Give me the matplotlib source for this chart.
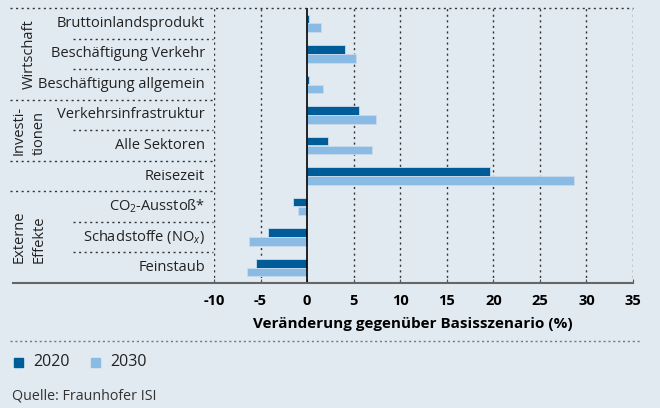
import matplotlib
matplotlib.use("Agg")
import matplotlib.pyplot as plt
import matplotlib.transforms as mtransforms
from matplotlib.lines import Line2D
from matplotlib.patches import Rectangle

plt.rcParams["font.family"] = ["Open Sans", "DejaVu Sans"]
plt.rcParams["mathtext.fontset"] = "custom"
plt.rcParams["mathtext.rm"] = "Open Sans"
plt.rcParams["mathtext.it"] = "Open Sans:italic"

# Daten (Veränderung gegenüber Basisszenario in %)
categories = [
    "Bruttoinlandsprodukt",
    "Beschäftigung Verkehr",
    "Beschäftigung allgemein",
    "Verkehrsinfrastruktur",
    "Alle Sektoren",
    "Reisezeit",
    r"CO$_{\mathrm{2}}$-Ausstoß*",
    r"Schadstoffe (NO$_{x}$)",
    "Feinstaub",
]
values_2020 = [0.2, 4.1, 0.2, 5.6, 2.2, 19.6, -1.5, -4.2, -5.5]
values_2030 = [1.5, 5.3, 1.7, 7.45, 6.95, 28.7, -1.0, -6.2, -6.5]
years = ["2020", "2030"]
groups = [("Wirtschaft", 0, 2), ("Investi-\ntionen", 3, 4), ("Externe\nEffekte", 6, 8)]
group_breaks = [2.5, 4.5, 5.5]
xticks = [-10, -5, 0, 5, 10, 15, 20, 25, 30, 35]

BG = "#e1e9f1"
DARK = "#005b99"
LIGHT = "#8abbe5"
DOT = "#333333"
W, H = 660, 408

fig = plt.figure(figsize=(6.6, 4.08), dpi=100, facecolor=BG)
ax = fig.add_axes([214 / W, 1 - 283 / H, (633 - 214) / W, (283 - 8) / H])
ax.set_facecolor(BG)

n = len(categories)
ypos = list(range(n))
h = 0.28
ax.barh([y - 0.145 for y in ypos], values_2020, height=h, color=DARK,
        edgecolor="#c9dbeb", linewidth=0.6, zorder=3)
ax.barh([y + 0.145 for y in ypos], values_2030, height=h, color=LIGHT,
        edgecolor="#c9dbeb", linewidth=0.6, zorder=3)

ax.set_xlim(-10, 35)
ax.set_ylim(n - 0.5, -0.5)
ax.set_yticks([])
ax.set_xticks(xticks)
ax.set_xticklabels([str(t) for t in xticks], fontsize=10.5, fontweight="bold")
ax.tick_params(axis="x", direction="in", length=3, color="#555555", pad=8)
ax.set_xlabel("Veränderung gegenüber Basisszenario (%)", fontsize=11,
              fontweight="bold")
ax.xaxis.set_label_coords((413 - 214) / 419, -(324 - 283) / 275)
ax.xaxis.label.set_va("center")

for s in ["top", "left", "right", "bottom"]:
    ax.spines[s].set_visible(False)

dots = (0, (1.5, 2.5))
# vertikale Gitterlinien
for t in xticks:
    if t == 0:
        ax.axvline(0, color="black", lw=1.2, zorder=4)
    else:
        ax.axvline(t, color=DOT, lw=1, ls=dots, zorder=1)

# obere Linie
fig.add_artist(Line2D([10 / W, 633 / W], [1 - 8 / H] * 2, color=DOT, lw=1, ls=dots))
# x-Achse
fig.add_artist(Line2D([13 / W, 633 / W], [1 - 283 / H] * 2, color="#666666", lw=1.5))

trans = mtransforms.blended_transform_factory(fig.transFigure, ax.transData)
for i in range(n - 1):
    b = i + 0.5
    x0 = 10 / W if b in group_breaks else 73 / W
    ax.add_line(Line2D([x0, 213 / W], [b, b], transform=trans, color=DOT,
                       lw=1, ls=dots, clip_on=False))

for y, lab in zip(ypos, categories):
    ax.text(205 / W, y, lab, transform=trans, ha="right", va="center",
            fontsize=10.5, color="#222222")

for name, a, b in groups:
    ax.text(29 / W, (a + b) / 2, name, transform=trans, rotation=90,
            ha="center", va="center", fontsize=10.5, color="#222222",
            linespacing=1.45, multialignment="left")

# Trennlinie unten
fig.add_artist(Line2D([10 / W, 640 / W], [1 - 341 / H] * 2, color="#777777", lw=1, ls=(0, (1.5, 2))))

# Legende
for i, (yr, col) in enumerate(zip(years, [DARK, LIGHT])):
    x = 14 + i * 77
    fig.add_artist(Rectangle((x / W, 1 - 367 / H), 8.5 / W, 9 / H, color=col,
                             transform=fig.transFigure))
    fig.text((x + 19) / W, 1 - 362 / H, yr, fontsize=11.5, va="center", color="#222222")

fig.text(12 / W, 1 - 396 / H, "Quelle: Fraunhofer ISI", fontsize=10.3,
         va="center", color="#333333")

fig.savefig("out.png", dpi=100, facecolor=BG)
